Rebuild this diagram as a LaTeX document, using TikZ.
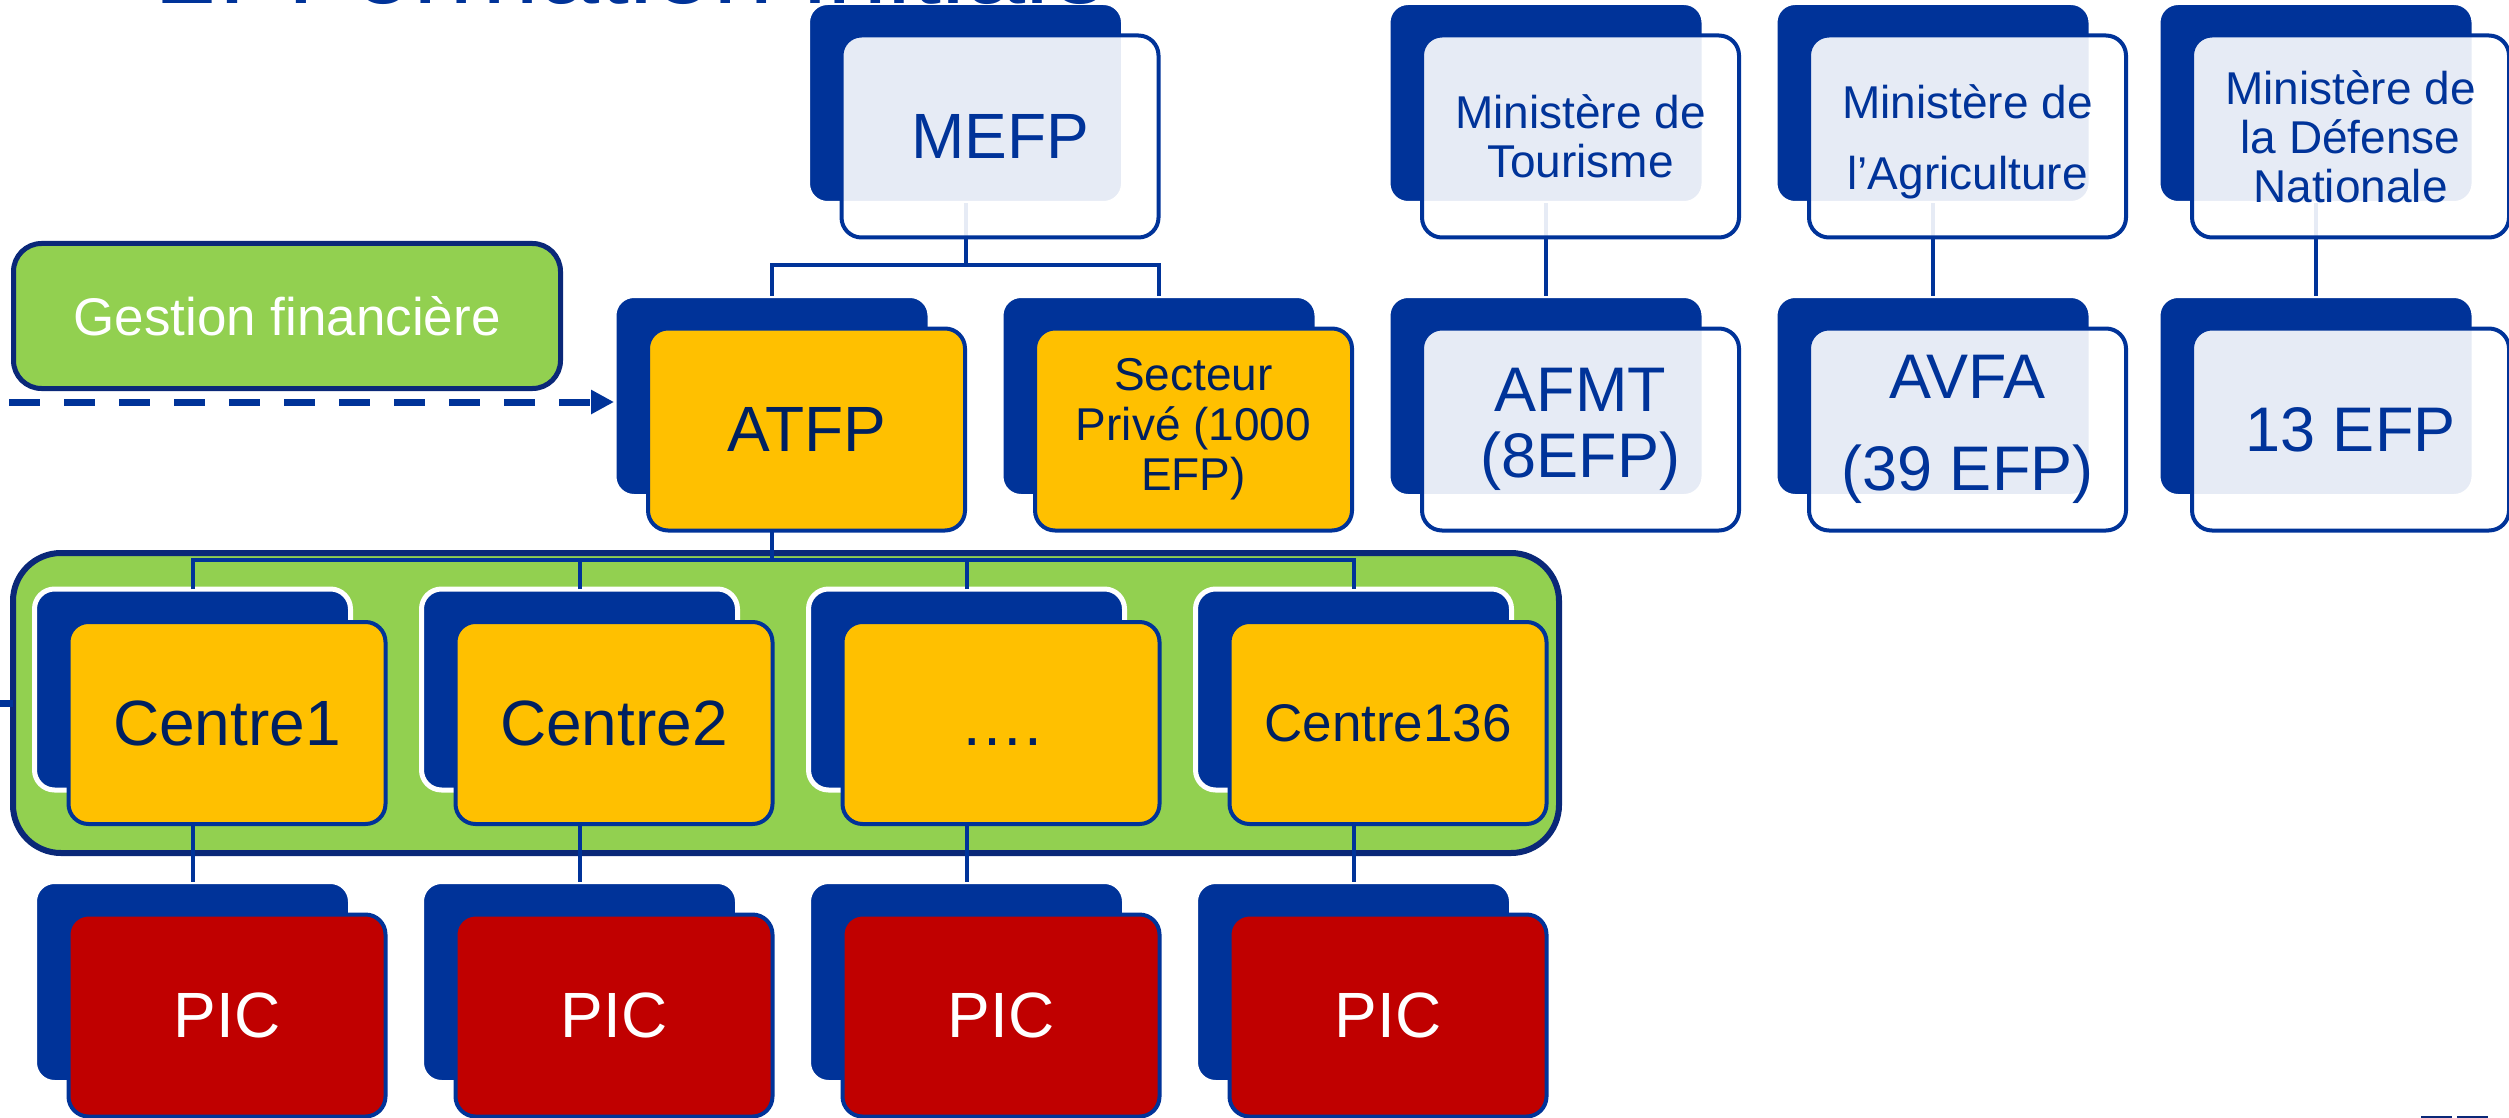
\documentclass[tikz,border=0pt]{standalone}
\usepackage{fontspec}
\setmainfont{Liberation Sans}
\usetikzlibrary{arrows.meta}
\definecolor{bblue}{HTML}{003399}
\definecolor{navy}{HTML}{002060}
\definecolor{navyb}{HTML}{0A2878}
\definecolor{lgreen}{HTML}{92D050}
\definecolor{gold}{HTML}{FFC000}
\definecolor{dred}{HTML}{C00000}
\tikzset{
  backbox/.style={draw=white, line width=2.5pt, fill=bblue, rounded corners=10pt,
    minimum width=158pt, minimum height=100.5pt, inner sep=0pt, outer sep=0pt, anchor=north west},
  frontbase/.style={draw=bblue, line width=2pt, rounded corners=10pt,
    minimum width=158.5pt, minimum height=101pt, inner sep=0pt, outer sep=0pt,
    anchor=north west, align=center},
  lightbox/.style={frontbase, fill=white, fill opacity=0.9, text opacity=1, text=bblue},
  goldbox/.style={frontbase, fill=gold, text=navy},
  redbox/.style={frontbase, fill=dred, text=white},
  conn/.style={draw=bblue, line width=2pt},
  dasharrow/.style={draw=bblue, line width=3.5pt, dash pattern=on 15.5pt off 12pt,
    -{Triangle[length=11.5pt,width=11.5pt]}},
  bigtxt/.style={font=\fontsize{32}{36}\selectfont},
  midtxt/.style={font=\fontsize{26.5}{30}\selectfont},
  mintxt/.style={font=\fontsize{23}{24.5}\selectfont},
  efptxt/.style={font=\fontsize{31.5}{33}\selectfont},
}
\newcommand\bkbox[3]{\node[backbox] (#1) at (#2,#3) {};}
\newcommand\frbox[5]{\node[#4] (#1) at (#2+34,#3+33) {#5};}
\begin{document}
\begin{tikzpicture}[x=0.5pt,y=-0.5pt]
\useasboundingbox (0,0) rectangle (2509,1118);
% green group container
\node[draw=navyb, line width=3pt, fill=lgreen, rounded corners=24pt, anchor=north west,
  minimum width=773pt, minimum height=150pt, inner sep=0pt, outer sep=0pt] (grp) at (13,553) {};
% gestion financiere
\node[draw=navyb, line width=2.5pt, fill=lgreen, rounded corners=14pt, anchor=north west,
  minimum width=273.5pt, minimum height=72.5pt, inner sep=0pt, outer sep=0pt, text=white,
  font=\fontsize{26.5}{30}\selectfont] (gest) at (13.5,243.5) {Gestion financière};
% back boxes
\bkbox{mefpB}{807.5}{2.5}
\bkbox{tourB}{1388}{2.5}
\bkbox{agriB}{1775}{2.5}
\bkbox{defB}{2158}{2.5}
\bkbox{atfpB}{614}{295.5}
\bkbox{secB}{1001}{295.5}
\bkbox{afmtB}{1388}{295.5}
\bkbox{avfaB}{1775}{295.5}
\bkbox{efpB}{2158}{295.5}
\bkbox{c1B}{34.5}{589}
\bkbox{c2B}{421.5}{589}
\bkbox{c3B}{808.5}{589}
\bkbox{c4B}{1195.5}{589}
\bkbox{p1B}{34.5}{881.5}
\bkbox{p2B}{421.5}{881.5}
\bkbox{p3B}{808.5}{881.5}
\bkbox{p4B}{1195.5}{881.5}
% connectors
\coordinate (busA) at (0,265);
\coordinate (busC) at (0,560);
\draw[conn] (mefpB.south) -- (mefpB.south |- busA);
\draw[conn] (atfpB.north) -- (atfpB.north |- busA) -- (secB.north |- busA) -- (secB.north);
\draw[conn] (tourB.south) -- (afmtB.north);
\draw[conn] (agriB.south) -- (avfaB.north);
\draw[conn] (defB.south) -- (efpB.north);
\draw[conn] (atfpB.south) -- (atfpB.south |- busC);
\draw[conn] (c1B.north) -- (c1B.north |- busC) -- (c4B.north |- busC) -- (c4B.north);
\draw[conn] (c2B.north) -- (c2B.north |- busC);
\draw[conn] (c3B.north) -- (c3B.north |- busC);
\draw[conn] (c1B.south) -- (p1B.north);
\draw[conn] (c2B.south) -- (p2B.north);
\draw[conn] (c3B.south) -- (p3B.north);
\draw[conn] (c4B.south) -- (p4B.north);
% front boxes
\frbox{mefp}{807.5}{2.5}{lightbox,bigtxt}{MEFP}
\frbox{tour}{1388}{2.5}{lightbox,mintxt}{Ministère de\\Tourisme}
\frbox{agri}{1775}{2.5}{lightbox,mintxt}{\rule{0pt}{22.6pt}Ministère de\\[11pt]l’Agriculture}
\frbox{def}{2158}{2.5}{lightbox,mintxt}{Ministère de\\la Défense\\Nationale}
\frbox{atfp}{614}{295.5}{goldbox,bigtxt}{ATFP}
\frbox{sec}{1001}{295.5}{goldbox,font=\fontsize{23}{25}\selectfont}{Secteur\\Privé (1000\\EFP)}
\frbox{afmt}{1388}{295.5}{lightbox,efptxt}{AFMT\\(8EFP)}
\frbox{avfa}{1775}{295.5}{lightbox,efptxt}{AVFA\\[13pt](39 EFP)}
\frbox{efp}{2158}{295.5}{lightbox,efptxt}{13 EFP}
\frbox{c1}{34.5}{589}{goldbox,bigtxt}{Centre1}
\frbox{c2}{421.5}{589}{goldbox,bigtxt}{Centre2}
\frbox{c3}{808.5}{589}{goldbox,bigtxt}{\vphantom{C}….}
\frbox{c4}{1195.5}{589}{goldbox,midtxt}{Centre136}
\frbox{p1}{34.5}{881.5}{redbox,bigtxt}{PIC}
\frbox{p2}{421.5}{881.5}{redbox,bigtxt}{PIC}
\frbox{p3}{808.5}{881.5}{redbox,bigtxt}{PIC}
\frbox{p4}{1195.5}{881.5}{redbox,bigtxt}{PIC}
% dashed arrow into ATFP
\coordinate (dstart) at (9,402);
\draw[dasharrow] (dstart) -- (dstart -| atfpB.west);
% stub entering the group from the left
\coordinate (stub) at (0,703);
\draw[conn, line width=3.5pt] (stub) -- (stub -| grp.west);
% cut-off logo at bottom right
\fill[navyb] (2421,1116) rectangle (2452,1118);
\fill[navyb] (2457,1116) rectangle (2488,1118);
% title (cut by the page top), drawn on top
\begin{scope}
\clip (0,0) rectangle (2509,1118);
\node[anchor=base west, inner sep=0pt, text=bblue, font=\fontsize{54}{60}\selectfont] (title) at (157,4) {2. Formation initiale};
\end{scope}
\end{tikzpicture}
\end{document}
